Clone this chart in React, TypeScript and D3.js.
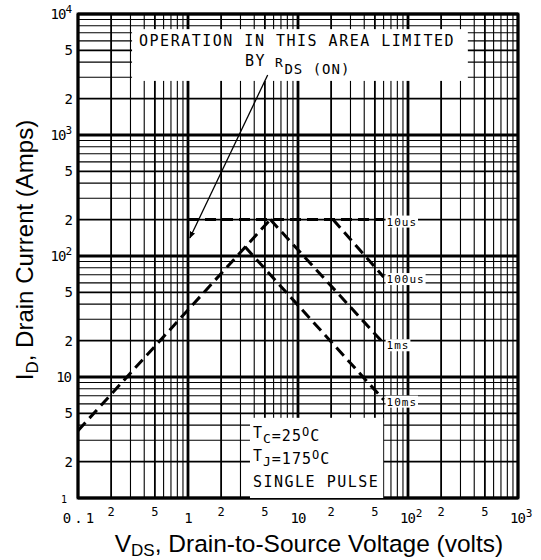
import { useEffect, useRef } from "react";
import * as d3 from "d3";

// axis decades and labels
const xDecades = [0.1, 1, 10, 100, 1000];
const xDecadeBase = ["0.1", "1", "10", "10", "10"];
const xDecadeSup = ["", "", "", "2", "3"];
const xMinor = [0.2, 0.5, 2, 5, 20, 50, 200, 500];
const xMinorLabels = ["2", "5", "2", "5", "2", "5", "2", "5"];

const yDecades = [1, 10, 100, 1000, 10000];
const yDecadeBase = ["1", "10", "10", "10", "10"];
const yDecadeSup = ["", "", "2", "3", "4"];
const yMinor = [2, 5, 20, 50, 200, 500, 2000, 5000];
const yMinorLabels = ["2", "5", "2", "5", "2", "5", "2", "5"];

// safe operating area curves [V, A]
const rdsLimit: [number, number][] = [[0.1, 3.6], [5.6, 200]];
const pulse10us: [number, number][] = [[1, 200], [60, 200]];
const pulse100us: [number, number][] = [[20.8, 200], [60, 67]];
const pulse1ms: [number, number][] = [[5.6, 200], [60, 19]];
const pulse10ms: [number, number][] = [[3.3, 119], [60, 6.5]];
const curveNames = ["10us", "100us", "1ms", "10ms"];

// annotation boxes and arrow [V, A]
const noteBox: [number, number][] = [[0.31, 2800], [350, 7500]];
const condBox: [number, number][] = [[3.66, 1], [59.5, 4.6]];
const rdsArrow: [number, number][] = [[5.3, 3130], [1.04, 141]];

const mono = "'DejaVu Sans Mono', monospace";
const sans = "'Liberation Sans', Arial, sans-serif";

export default function App() {
  const ref = useRef<SVGSVGElement | null>(null);

  useEffect(() => {
    if (!ref.current) return;
    const svg = d3.select(ref.current);
    svg.selectAll("*").remove();

    const x = d3.scaleLog().domain([0.1, 1000]).range([78, 518]);
    const y = d3.scaleLog().domain([1, 10000]).range([498, 14]);

    const weight = (v: number) => {
      const d = Math.round(v / Math.pow(10, Math.floor(Math.log10(v) + 1e-9)));
      return d === 1 ? 2.8 : d === 2 || d === 5 ? 1.8 : 1.1;
    };

    // grid
    const grid = svg.append("g").attr("stroke", "#000");
    grid
      .selectAll("line.v")
      .data(x.ticks())
      .join("line")
      .attr("class", "v")
      .attr("x1", (d) => x(d))
      .attr("x2", (d) => x(d))
      .attr("y1", y(10000))
      .attr("y2", y(1))
      .attr("stroke-width", weight);
    grid
      .selectAll("line.h")
      .data(y.ticks())
      .join("line")
      .attr("class", "h")
      .attr("x1", x(0.1))
      .attr("x2", x(1000))
      .attr("y1", (d) => y(d))
      .attr("y2", (d) => y(d))
      .attr("stroke-width", weight);

    svg
      .append("rect")
      .attr("x", x(0.1))
      .attr("y", y(10000))
      .attr("width", x(1000) - x(0.1))
      .attr("height", y(1) - y(10000))
      .attr("fill", "none")
      .attr("stroke", "#000")
      .attr("stroke-width", 2.8);

    // white boxes
    [noteBox, condBox].forEach((b) => {
      svg
        .append("rect")
        .attr("x", x(b[0][0]))
        .attr("y", y(b[1][1]))
        .attr("width", x(b[1][0]) - x(b[0][0]))
        .attr("height", y(b[0][1]) - y(b[1][1]))
        .attr("fill", "#fff");
    });

    // curves
    const line = d3
      .line<[number, number]>()
      .x((d) => x(d[0]))
      .y((d) => y(d[1]));
    const curves = [rdsLimit, pulse10us, pulse100us, pulse1ms, pulse10ms];
    svg
      .append("g")
      .selectAll("path")
      .data(curves)
      .join("path")
      .attr("d", (d) => line(d))
      .attr("fill", "none")
      .attr("stroke", "#000")
      .attr("stroke-width", 3)
      .attr("stroke-dasharray", "11,6");

    // curve labels
    const ends = curves.slice(1).map((c) => c[c.length - 1]);
    const lab = svg.append("g");
    ends.forEach((e, i) => {
      const lx = x(e[0]) + 2;
      const ly = y(e[1]) + 2;
      const w = curveNames[i].length * 7.6 + 2;
      lab
        .append("rect")
        .attr("x", lx)
        .attr("y", ly - 6)
        .attr("width", w)
        .attr("height", 12)
        .attr("fill", "#fff");
      lab
        .append("text")
        .text(curveNames[i])
        .attr("x", lx + 1)
        .attr("y", ly + 4)
        .attr("font-family", mono)
        .attr("font-size", 11)
        .attr("letter-spacing", 1);
    });

    // arrow
    svg
      .append("defs")
      .append("marker")
      .attr("id", "arr")
      .attr("viewBox", "0 0 10 10")
      .attr("refX", 9)
      .attr("refY", 5)
      .attr("markerWidth", 7)
      .attr("markerHeight", 7)
      .attr("orient", "auto")
      .attr("markerUnits", "userSpaceOnUse")
      .append("path")
      .attr("d", "M0,1 L10,5 L0,9 Z")
      .attr("fill", "#000");
    svg
      .append("line")
      .attr("x1", x(rdsArrow[0][0]))
      .attr("y1", y(rdsArrow[0][1]))
      .attr("x2", x(rdsArrow[1][0]))
      .attr("y2", y(rdsArrow[1][1]))
      .attr("stroke", "#000")
      .attr("stroke-width", 1.3)
      .attr("marker-end", "url(#arr)");

    // annotation texts
    const bx = x(noteBox[0][0]);
    const by = y(noteBox[1][1]);
    const note = svg
      .append("g")
      .attr("font-family", mono)
      .attr("font-size", 15)
      .attr("letter-spacing", 1.5);
    note
      .append("text")
      .text("OPERATION IN THIS AREA LIMITED")
      .attr("x", bx + 7)
      .attr("y", by + 17);
    note
      .append("text")
      .text("BY")
      .attr("x", bx + 113)
      .attr("y", by + 37);
    const t2 = note.append("text").attr("x", bx + 143).attr("y", by + 38).attr("font-size", 13);
    t2.append("tspan").text("R");
    t2.append("tspan").text("DS (ON)").attr("dy", 7).attr("font-size", 14).attr("letter-spacing", 1);

    const cx = x(condBox[0][0]) + 3;
    const cy = y(condBox[1][1]);
    const cond = svg
      .append("g")
      .attr("font-family", mono)
      .attr("font-size", 15)
      .attr("letter-spacing", 1);
    const c1 = cond.append("text").attr("x", cx).attr("y", cy + 23);
    c1.append("tspan").text("T").attr("dy", -3);
    c1.append("tspan").text("C").attr("dy", 5).attr("font-size", 13);
    c1.append("tspan").text("=25").attr("dy", -2);
    c1.append("tspan").text("O").attr("dy", -5).attr("font-size", 12);
    c1.append("tspan").text("C").attr("dy", 5);
    const c2 = cond.append("text").attr("x", cx).attr("y", cy + 46);
    c2.append("tspan").text("T").attr("dy", -3);
    c2.append("tspan").text("J").attr("dy", 5).attr("font-size", 13);
    c2.append("tspan").text("=175").attr("dy", -2);
    c2.append("tspan").text("O").attr("dy", -5).attr("font-size", 12);
    c2.append("tspan").text("C").attr("dy", 5);
    cond
      .append("text")
      .text("SINGLE PULSE")
      .attr("x", cx)
      .attr("y", cy + 69)
      .attr("letter-spacing", 1.5);

    // y tick labels
    const yl = svg.append("g").attr("font-family", mono);
    yMinor.forEach((v, i) => {
      yl.append("text")
        .text(yMinorLabels[i])
        .attr("x", 73)
        .attr("y", y(v) + 5)
        .attr("text-anchor", "end")
        .attr("font-size", 14);
    });
    yDecades.forEach((v, i) => {
      const t = yl
        .append("text")
        .attr("x", yDecadeBase[i] === "1" ? 66 : 71)
        .attr("y", y(v) + 5)
        .attr("text-anchor", "end")
        .attr("font-size", yDecadeBase[i] === "1" ? 10 : 14)
        .attr("letter-spacing", -1);
      t.append("tspan").text(yDecadeBase[i]);
      if (yDecadeSup[i])
        t.append("tspan").text(yDecadeSup[i]).attr("dy", -6).attr("font-size", 11);
    });

    // x tick labels
    const xl = svg.append("g").attr("font-family", mono);
    xMinor.forEach((v, i) => {
      xl.append("text")
        .text(xMinorLabels[i])
        .attr("x", x(v))
        .attr("y", 516)
        .attr("text-anchor", "middle")
        .attr("font-size", 12);
    });
    xDecades.forEach((v, i) => {
      const base = xDecadeBase[i];
      const t = xl
        .append("text")
        .attr("y", 523)
        .attr("font-size", 14);
      if (base === "0.1") {
        t.text(base).attr("x", x(v) + 2).attr("text-anchor", "middle").attr("letter-spacing", 3);
      } else if (xDecadeSup[i]) {
        t.attr("x", x(v) - 8).attr("letter-spacing", -1);
        t.append("tspan").text(base);
        t.append("tspan").text(xDecadeSup[i]).attr("dx", 1).attr("dy", -6).attr("font-size", 11);
      } else {
        t.text(base).attr("x", x(v)).attr("text-anchor", "middle").attr("letter-spacing", -1);
      }
    });

    // axis titles
    const yt = svg
      .append("text")
      .attr("transform", "translate(33,250) rotate(-90)")
      .attr("text-anchor", "middle")
      .attr("font-family", sans)
      .attr("font-size", 24);
    yt.append("tspan").text("I");
    yt.append("tspan").text("D").attr("dy", 5).attr("font-size", 17);
    yt.append("tspan").text(", Drain Current (Amps)").attr("dy", -5);

    const xt = svg
      .append("text")
      .attr("x", 309)
      .attr("y", 552)
      .attr("text-anchor", "middle")
      .attr("font-family", sans)
      .attr("font-size", 24.5);
    xt.append("tspan").text("V");
    xt.append("tspan").text("DS").attr("dy", 4).attr("font-size", 17);
    xt.append("tspan").text(", Drain-to-Source Voltage (volts)").attr("dy", -4);
  }, []);

  return (
    <svg
      ref={ref}
      width={541}
      height={560}
      style={{ position: "absolute", left: 0, top: 0, background: "#fff" }}
    />
  );
}
